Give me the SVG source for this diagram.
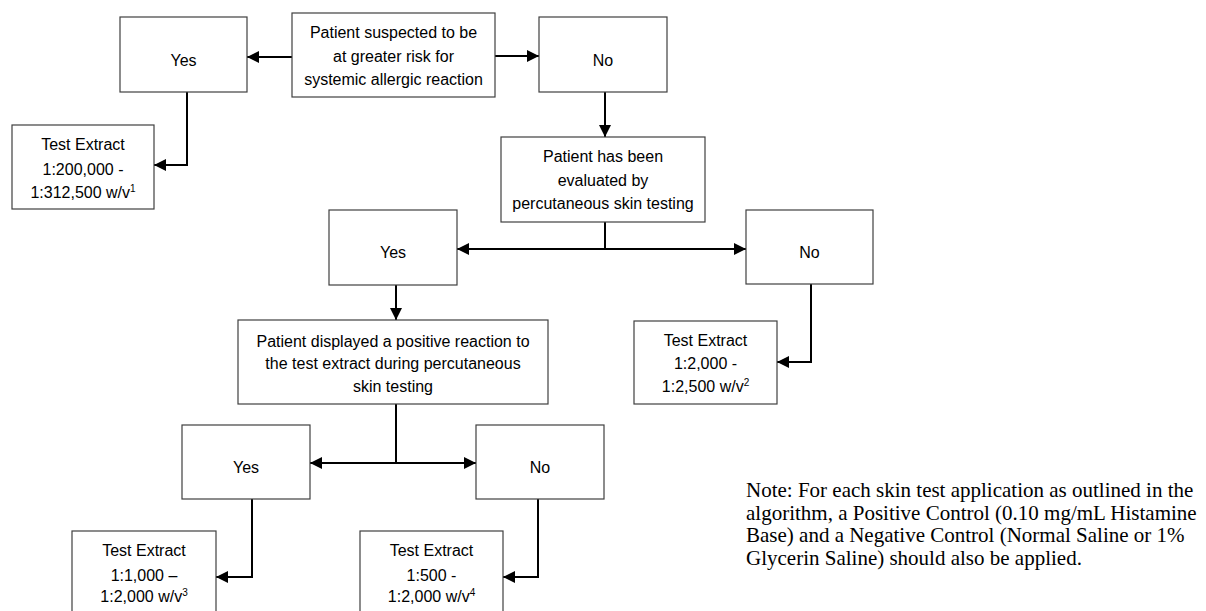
<svg xmlns="http://www.w3.org/2000/svg" width="1206" height="611" viewBox="0 0 1206 611">
<style>
.box{fill:#fff;stroke:#404040;stroke-width:1.2}
.t{font-family:"Liberation Sans",Arial,sans-serif;font-size:16px;fill:#000;text-anchor:middle}
.sup{font-size:10px}
.c{fill:none;stroke:#000;stroke-width:2}
.note{font-family:"Liberation Serif","Times New Roman",serif;font-size:21px;fill:#000}
</style>
<defs>
<marker id="ah" markerUnits="userSpaceOnUse" markerWidth="12" markerHeight="12" refX="12" refY="6" orient="auto">
<path d="M0,0 L12,6 L0,12 z" fill="#000"/>
</marker>
</defs>
<rect width="1206" height="611" fill="#fff"/>
<g id="connectors">
<line class="c" x1="292" y1="57" x2="247" y2="57" marker-end="url(#ah)"/>
<line class="c" x1="495" y1="56" x2="539" y2="56" marker-end="url(#ah)"/>
<polyline class="c" points="187,92 187,165 154,165" marker-end="url(#ah)"/>
<line class="c" x1="605" y1="92" x2="605" y2="137" marker-end="url(#ah)"/>
<line class="c" x1="605" y1="222" x2="605" y2="249"/>
<line class="c" x1="605" y1="249" x2="457" y2="249" marker-end="url(#ah)"/>
<line class="c" x1="605" y1="249" x2="746" y2="249" marker-end="url(#ah)"/>
<polyline class="c" points="811,284 811,362 777,362" marker-end="url(#ah)"/>
<line class="c" x1="396" y1="285" x2="396" y2="320" marker-end="url(#ah)"/>
<line class="c" x1="396" y1="404" x2="396" y2="463"/>
<line class="c" x1="396" y1="463" x2="310" y2="463" marker-end="url(#ah)"/>
<line class="c" x1="396" y1="463" x2="476" y2="463" marker-end="url(#ah)"/>
<polyline class="c" points="252,499 252,577 216,577" marker-end="url(#ah)"/>
<polyline class="c" points="538,499 538,577 503,577" marker-end="url(#ah)"/>
</g>
<g id="start">
<rect class="box" x="292" y="13" width="203" height="84"/>
<text class="t" x="393.5" y="38">Patient suspected to be</text>
<text class="t" x="393.5" y="62">at greater risk for</text>
<text class="t" x="393.5" y="85">systemic allergic reaction</text>
</g>
<g id="yes1">
<rect class="box" x="120" y="17" width="127" height="75"/>
<text class="t" x="183.5" y="66">Yes</text>
</g>
<g id="no1">
<rect class="box" x="539" y="17" width="128" height="75"/>
<text class="t" x="603" y="66">No</text>
</g>
<g id="te1">
<rect class="box" x="12" y="125" width="142" height="84"/>
<text class="t" x="83" y="150">Test Extract</text>
<text class="t" x="83" y="175">1:200,000 -</text>
<text class="t" x="83" y="198">1:312,500 w/v<tspan class="sup" dy="-6">1</tspan></text>
</g>
<g id="evaluated">
<rect class="box" x="501" y="137" width="204" height="85"/>
<text class="t" x="603" y="162">Patient has been</text>
<text class="t" x="603" y="186">evaluated by</text>
<text class="t" x="603" y="209">percutaneous skin testing</text>
</g>
<g id="yes2">
<rect class="box" x="329" y="210" width="128" height="75"/>
<text class="t" x="393" y="258">Yes</text>
</g>
<g id="no2">
<rect class="box" x="746" y="210" width="127" height="74"/>
<text class="t" x="809.5" y="258">No</text>
</g>
<g id="te2">
<rect class="box" x="634" y="321" width="143" height="83"/>
<text class="t" x="705.5" y="346">Test Extract</text>
<text class="t" x="705.5" y="369">1:2,000 -</text>
<text class="t" x="705.5" y="392">1:2,500 w/v<tspan class="sup" dy="-6">2</tspan></text>
</g>
<g id="positive">
<rect class="box" x="238" y="320" width="310" height="84"/>
<text class="t" x="393" y="347">Patient displayed a positive reaction to</text>
<text class="t" x="393" y="369">the test extract during percutaneous</text>
<text class="t" x="393" y="392">skin testing</text>
</g>
<g id="yes3">
<rect class="box" x="182" y="425" width="128" height="74"/>
<text class="t" x="246" y="473">Yes</text>
</g>
<g id="no3">
<rect class="box" x="476" y="425" width="128" height="74"/>
<text class="t" x="540" y="473">No</text>
</g>
<g id="te3">
<rect class="box" x="72" y="531" width="144" height="84"/>
<text class="t" x="144" y="556">Test Extract</text>
<text class="t" x="144" y="581">1:1,000 –</text>
<text class="t" x="144" y="602">1:2,000 w/v<tspan class="sup" dy="-6">3</tspan></text>
</g>
<g id="te4">
<rect class="box" x="360" y="531" width="143" height="84"/>
<text class="t" x="431.5" y="556">Test Extract</text>
<text class="t" x="431.5" y="581">1:500 -</text>
<text class="t" x="431.5" y="602">1:2,000 w/v<tspan class="sup" dy="-6">4</tspan></text>
</g>
<g id="note">
<text class="note" x="746" y="497">Note: For each skin test application as outlined in the</text>
<text class="note" x="746" y="520">algorithm, a Positive Control (0.10 mg/mL Histamine</text>
<text class="note" x="746" y="542">Base) and a Negative Control (Normal Saline or 1%</text>
<text class="note" x="746" y="565">Glycerin Saline) should also be applied.</text>
</g>
</svg>
